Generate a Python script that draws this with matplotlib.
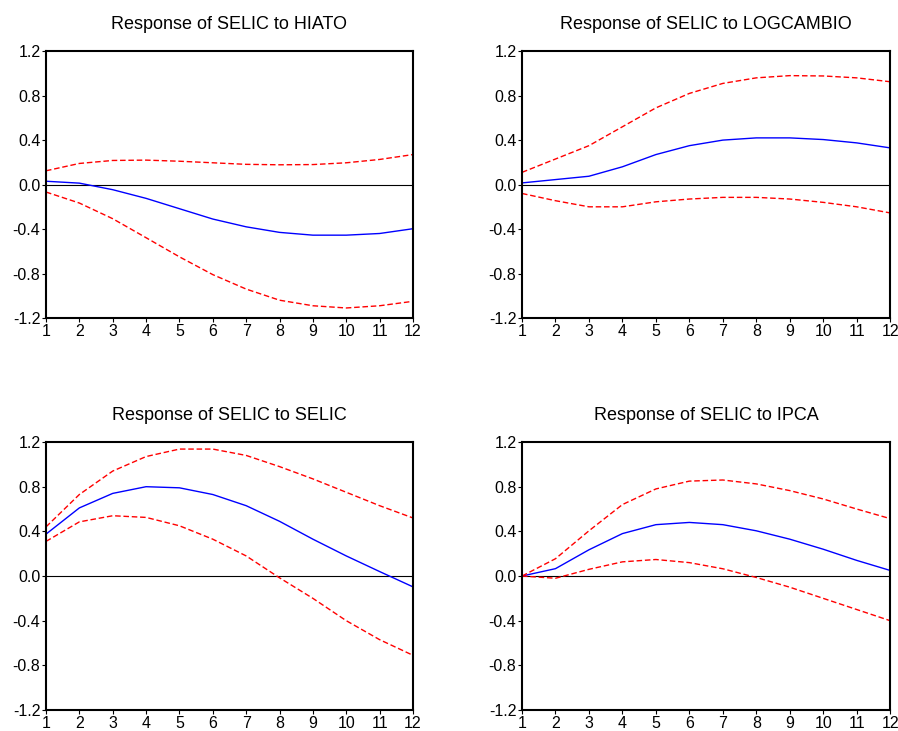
import matplotlib
matplotlib.use('Agg')
import matplotlib.pyplot as plt

periods = list(range(1, 13))

titles = ['Response of SELIC to HIATO', 'Response of SELIC to LOGCAMBIO',
          'Response of SELIC to SELIC', 'Response of SELIC to IPCA']

# impulse responses
hiato = [0.03, 0.013, -0.046, -0.124, -0.217, -0.31, -0.38, -0.43, -0.455, -0.455, -0.44, -0.397]
hiato_up = [0.124, 0.19, 0.217, 0.22, 0.21, 0.196, 0.182, 0.178, 0.18, 0.196, 0.226, 0.27]
hiato_lo = [-0.067, -0.166, -0.307, -0.478, -0.65, -0.81, -0.94, -1.04, -1.09, -1.11, -1.09, -1.05]

cambio = [0.015, 0.045, 0.075, 0.16, 0.27, 0.35, 0.40, 0.42, 0.42, 0.405, 0.375, 0.33]
cambio_up = [0.11, 0.23, 0.35, 0.52, 0.69, 0.82, 0.91, 0.96, 0.98, 0.977, 0.96, 0.925]
cambio_lo = [-0.08, -0.145, -0.2, -0.2, -0.155, -0.13, -0.115, -0.115, -0.13, -0.16, -0.2, -0.255]

selic = [0.375, 0.61, 0.74, 0.80, 0.79, 0.73, 0.63, 0.49, 0.33, 0.18, 0.04, -0.097]
selic_up = [0.44, 0.73, 0.94, 1.07, 1.137, 1.137, 1.08, 0.98, 0.87, 0.75, 0.63, 0.52]
selic_lo = [0.31, 0.485, 0.54, 0.525, 0.45, 0.33, 0.18, -0.016, -0.2, -0.4, -0.57, -0.71]

ipca = [0.0, 0.066, 0.235, 0.38, 0.46, 0.48, 0.46, 0.405, 0.33, 0.24, 0.14, 0.05]
ipca_up = [0.0, 0.155, 0.405, 0.64, 0.78, 0.85, 0.86, 0.825, 0.765, 0.69, 0.60, 0.514]
ipca_lo = [0.0, -0.02, 0.06, 0.127, 0.148, 0.12, 0.065, -0.013, -0.10, -0.2, -0.30, -0.40]

series = [(hiato, hiato_up, hiato_lo), (cambio, cambio_up, cambio_lo),
          (selic, selic_up, selic_lo), (ipca, ipca_up, ipca_lo)]

yticks = [-1.2, -0.8, -0.4, 0.0, 0.4, 0.8, 1.2]

plt.rcParams['font.family'] = ['Liberation Sans', 'DejaVu Sans']

fig = plt.figure(figsize=(8.98, 7.31), dpi=100)
positions = [[0.0512, 0.565, 0.4087, 0.365], [0.5813, 0.565, 0.41, 0.365],
             [0.0512, 0.0287, 0.4087, 0.3666], [0.5813, 0.0287, 0.41, 0.3666]]

for pos, title, (mid, up, lo) in zip(positions, titles, series):
    ax = fig.add_axes(pos)
    ax.axhline(0, color='black', lw=0.8)
    ax.plot(periods, mid, color='blue', lw=1.0)
    ax.plot(periods, up, color='red', lw=1.0, ls=(0, (4, 2)))
    ax.plot(periods, lo, color='red', lw=1.0, ls=(0, (4, 2)))
    ax.set_xlim(1, 12)
    ax.set_ylim(-1.2, 1.2)
    ax.set_xticks(periods)
    ax.set_yticks(yticks)
    ax.set_yticklabels([f'{v:.1f}' for v in yticks])
    ax.tick_params(direction='out', length=3, width=0.8, labelsize=11.5, pad=1)
    for s in ax.spines.values():
        s.set_linewidth(1.5)
    ax.set_title(title, fontsize=13, pad=16)

plt.savefig('out.png', dpi=100)
plt.close()
